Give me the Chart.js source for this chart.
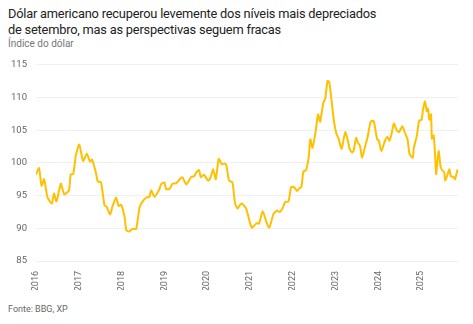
<!DOCTYPE html>
<html>
<head>
<meta charset="utf-8">
<script src="https://cdn.jsdelivr.net/npm/chart.js@4"></script>
<style>
  html, body { margin: 0; padding: 0; background: #fff; }
  body { width: 473px; height: 324px; position: relative; overflow: hidden; font-family: Roboto, "Noto Sans", sans-serif; }
  #title { position: absolute; left: 8px; top: 6px; font-size: 12.8px; line-height: 16px; color: #222; letter-spacing: -0.2px; }
  #subtitle { position: absolute; left: 8px; top: 38px; font-size: 10px; color: #777; }
  #source { position: absolute; left: 8px; top: 304px; font-size: 9px; color: #666; }
  #chart-container { position: absolute; left: 0; top: 50px; width: 458px; height: 240px; }
</style>
</head>
<body>
<div id="title">Dólar americano recuperou levemente dos níveis mais depreciados<br>de setembro, mas as perspectivas seguem fracas</div>
<div id="subtitle">Índice do dólar</div>
<div id="chart-container"><canvas id="usdChart"></canvas></div>
<div id="source">Fonte: BBG, XP</div>
<script>
// time in decimal years
const dates = [
  2016.00, 2016.07, 2016.13, 2016.19, 2016.27, 2016.37, 2016.42, 2016.48, 2016.58, 2016.66,
  2016.77, 2016.81, 2016.87, 2016.93, 2017.01, 2017.10, 2017.19, 2017.26, 2017.31, 2017.40,
  2017.44, 2017.52, 2017.60, 2017.65, 2017.73, 2017.79, 2017.87, 2017.93, 2017.99, 2018.07,
  2018.11, 2018.18, 2018.25, 2018.34, 2018.42, 2018.48, 2018.58, 2018.65, 2018.69, 2018.77,
  2018.87, 2018.93, 2019.00, 2019.04, 2019.12, 2019.19, 2019.28, 2019.36, 2019.42, 2019.51,
  2019.63, 2019.69, 2019.75, 2019.81, 2019.85, 2019.92, 2020.02, 2020.08, 2020.14, 2020.20,
  2020.27, 2020.34, 2020.41, 2020.45, 2020.51, 2020.59, 2020.65, 2020.71, 2020.77, 2020.81,
  2020.91, 2021.04, 2021.16, 2021.21, 2021.30, 2021.38, 2021.45, 2021.55, 2021.63, 2021.70,
  2021.77, 2021.82, 2021.90, 2021.96, 2022.03, 2022.10, 2022.15, 2022.20, 2022.25, 2022.31,
  2022.37, 2022.41, 2022.46, 2022.53, 2022.59, 2022.64, 2022.71, 2022.76, 2022.81, 2022.85,
  2022.90, 2022.96, 2023.02, 2023.07, 2023.14, 2023.19, 2023.23, 2023.29, 2023.33, 2023.39,
  2023.42, 2023.48, 2023.52, 2023.57, 2023.62, 2023.70, 2023.75, 2023.82, 2023.89, 2023.97,
  2024.01, 2024.07, 2024.15, 2024.21, 2024.26, 2024.31, 2024.36, 2024.42, 2024.48, 2024.56,
  2024.62, 2024.68, 2024.73, 2024.80, 2024.83, 2024.90, 2024.95, 2025.01, 2025.04, 2025.09,
  2025.13, 2025.16, 2025.19, 2025.23, 2025.25, 2025.29, 2025.32, 2025.35, 2025.38, 2025.41,
  2025.45, 2025.48, 2025.54, 2025.56, 2025.62, 2025.66, 2025.69, 2025.76, 2025.79, 2025.85
];

const dollarIndex = [
  98.2, 99.2, 96.5, 97.5, 94.7, 93.8, 95.3, 94.1, 96.8, 95.2,
  95.8, 98.2, 98.3, 101.1, 102.8, 100.3, 101.4, 100.2, 100.5, 98.5,
  97.2, 97.0, 93.5, 93.3, 92.1, 93.4, 94.7, 93.4, 93.6, 91.7,
  89.7, 89.5, 89.9, 89.9, 93.2, 94.0, 94.7, 94.8, 95.8, 94.8,
  95.8, 96.8, 97.0, 96.0, 96.0, 96.8, 96.9, 97.5, 97.8, 96.7,
  97.9, 97.9, 98.6, 98.9, 97.8, 98.2, 97.3, 97.8, 99.0, 97.5,
  100.6, 99.8, 99.9, 99.6, 97.3, 97.0, 93.8, 93.0, 93.6, 93.8,
  93.0, 90.1, 90.8, 90.7, 92.6, 91.0, 90.1, 92.2, 92.7, 92.5,
  93.2, 94.0, 94.1, 96.3, 96.3, 95.7, 96.1, 96.3, 98.7, 98.9,
  100.8, 103.6, 102.3, 104.6, 107.4, 106.3, 109.1, 109.9, 112.5, 112.4,
  109.9, 106.4, 104.4, 103.7, 102.1, 103.7, 104.7, 103.3, 102.1, 101.6,
  101.8, 103.8, 103.1, 102.6, 100.8, 102.8, 104.0, 106.3, 106.4, 103.6,
  103.4, 101.8, 103.3, 104.0, 103.4, 104.5, 106.0, 105.1, 104.7, 105.6,
  104.6, 103.6, 101.3, 100.8, 102.3, 104.2, 106.4, 106.6, 108.1, 109.4,
  107.9, 108.3, 106.6, 107.4, 103.7, 104.2, 101.8, 98.3, 100.3, 101.8,
  99.5, 99.0, 98.5, 97.3, 98.3, 99.0, 98.0, 97.8, 97.5, 99.0
];

const yearTicks = [2016, 2017, 2018, 2019, 2020, 2021, 2022, 2023, 2024, 2025];

const lineColor = '#FFC000';

const points = dates.map((d, i) => ({ x: d, y: dollarIndex[i] }));

const ctx = document.getElementById('usdChart').getContext('2d');
new Chart(ctx, {
  type: 'line',
  data: {
    datasets: [{
      label: 'Índice do dólar',
      data: points,
      borderColor: lineColor,
      borderWidth: 2,
      pointRadius: 0,
      tension: 0.2,
      fill: false,
    }],
  },
  options: {
    responsive: true,
    maintainAspectRatio: false,
    animation: false,
    layout: { padding: { left: 0, right: 0, top: 13, bottom: 0 } },
    plugins: {
      legend: { display: false },
      tooltip: { enabled: false },
    },
    scales: {
      x: {
        type: 'linear',
        min: 2016,
        max: 2025.86,
        afterBuildTicks: axis => { axis.ticks = yearTicks.map(v => ({ value: v })); },
        afterFit: axis => { axis.height = 29; },
        ticks: {
          autoSkip: false,
          maxRotation: 90,
          minRotation: 90,
          padding: 2,
          color: '#666',
          font: { family: 'Roboto', size: 9 },
          callback: v => String(v),
        },
        grid: { display: false },
        border: { display: false },
      },
      y: {
        min: 85,
        max: 115,
        afterFit: axis => { axis.width = 36; },
        ticks: {
          stepSize: 5,
          color: '#666',
          padding: 9,
          font: { family: 'Roboto', size: 9.5 },
        },
        grid: { color: '#f0f0f0', lineWidth: 1, drawTicks: false },
        border: { display: false },
      },
    },
  },
});
</script>
</body>
</html>
